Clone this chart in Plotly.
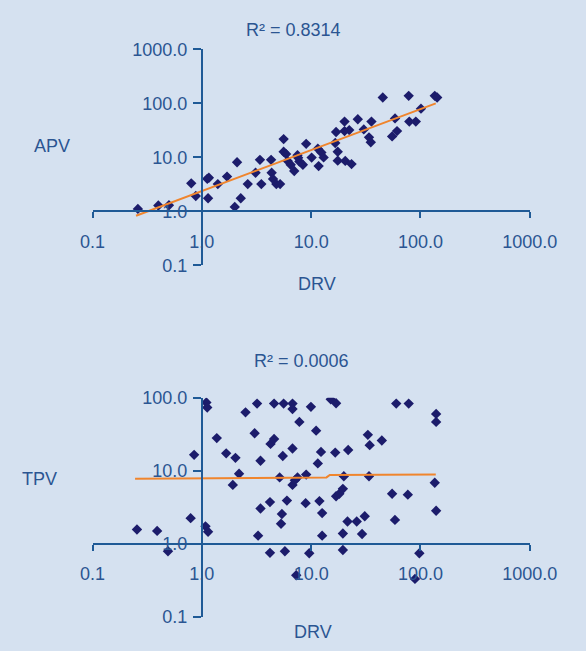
import plotly.graph_objects as go
import math

# ---------------- data ----------------
apv_drv = [0.26, 0.40, 0.50, 0.80, 0.88, 1.12, 1.16, 1.14, 1.40, 1.70, 2.10, 2.00, 2.27, 2.63,
           3.1, 3.4, 3.5, 4.3, 4.35, 4.48, 4.8, 5.2, 5.6, 5.6, 5.9, 6.1, 6.5, 7.0, 7.5, 7.8,
           7.6, 8.4, 9.0, 10.1, 11.5, 11.7, 12.4, 13.0, 16.9, 16.6, 17.5, 17.5, 20.2, 20.2,
           22.3, 20.5, 23.4, 26.7, 30.3, 33.8, 35.1, 35.6, 45.2, 55, 61, 58.5, 78, 79, 90.6,
           101, 135, 142]
apv_val = [1.11, 1.28, 1.30, 3.3, 1.93, 4.0, 4.2, 1.75, 3.2, 4.4, 8.1, 1.21, 1.75, 3.2,
           5.2, 9.0, 3.2, 9.0, 5.2, 3.97, 3.2, 3.2, 21.8, 12.7, 11.5, 8.6, 7.3, 5.6, 11.0, 8.4,
           9.8, 7.3, 17.8, 9.9, 14.5, 6.9, 12.3, 10.0, 29.5, 18.5, 12.7, 8.7, 46, 30.7,
           32, 8.6, 7.5, 51, 33, 23.5, 19.1, 46, 129, 24.5, 30.7, 52.8, 138, 46, 46,
           80, 138, 129]

tpv_drv = [0.255, 0.39, 0.49, 0.79, 0.85, 1.10, 1.12, 1.08, 1.14, 1.37, 1.67, 2.03, 1.92, 2.19,
           2.51, 3.2, 3.04, 3.44, 3.44, 3.27, 4.2, 4.2, 4.25, 4.58, 4.58, 5.6, 5.15, 5.5, 5.4,
           5.3, 6.0, 5.75, 6.75, 6.75, 6.75, 6.75, 7.1, 7.5, 7.8, 7.3, 8.9, 9.0, 9.6, 9.95,
           11.1, 11.5, 11.9, 12.3, 12.6, 12.6, 15.1, 16.9, 16.6, 16.9, 18.1, 19.5, 19.9, 19.5,
           19.5, 21.8, 21.5, 26.1, 29.2, 30.9, 33, 34.3, 33.8, 44.3, 55, 58.4, 60, 78, 76.6,
           97.6, 89, 139, 139, 135, 139]
tpv_val = [1.57, 1.50, 0.79, 2.24, 16.5, 85.9, 73.6, 1.73, 1.46, 28, 17.3, 15.0, 6.4, 9.1,
           63, 83, 32.6, 13.7, 3.04, 1.29, 3.72, 0.75, 23.3, 27.2, 83, 83, 8.1, 15.9, 2.55,
           1.88, 3.9, 0.79, 83, 70, 20.2, 6.4, 7.4, 8.1, 46.6, 0.37, 3.6, 8.85, 0.74, 75,
           35.4, 12.6, 3.84, 18.1, 2.63, 1.29, 95, 84, 17.7, 4.47, 4.85, 5.65, 8.4, 1.38,
           0.82, 19.2, 2.02, 2.02, 1.36, 2.38, 31, 22.4, 8.4, 26, 4.85, 2.12, 83, 83, 4.7,
           0.74, 0.33, 60, 46.6, 6.86, 2.83]

# trend lines as drawn in the picture
apv_trend_x = [0.25, 138]
apv_trend_y = [0.83, 100]
tpv_trend_x = [0.245, 13.8, 14.8, 138]
tpv_trend_y = [7.75, 8.1, 8.75, 8.85]

x_ticks = [0.1, 1, 10, 100, 1000]
x_labels = ["0.1", "1.0", "10.0", "100.0", "1000.0"]
y1_ticks = [0.1, 1, 10, 100, 1000]
y1_labels = ["0.1", "1.0", "10.0", "100.0", "1000.0"]
y2_ticks = [0.1, 1, 10, 100]
y2_labels = ["0.1", "1.0", "10.0", "100.0"]

titles = ["R² = 0.8314", "R² = 0.0006"]
y_names = ["APV", "TPV"]
x_name = "DRV"

# ---------------- styling ----------------
W, H = 586, 651
BG = "#d5e1f0"
AX = "#1f5a96"
TXT = "#2b5592"
MK = "#1c1c6b"
OR = "#f0852d"
FONT = "Liberation Sans, Arial, sans-serif"
FS = 18

def px_to_fx(p):
    return p / W

def py_to_fy(p):
    return 1 - p / H

xdom = [px_to_fx(85.5), px_to_fx(555.7)]
y1dom = [py_to_fy(263.4), py_to_fy(40.7)]
y2dom = [py_to_fy(626), py_to_fy(400)]
xr = [-1, 3]
y1r = [-1, 3]
y2r = [-1, 2]

def frac(v, r):
    return (math.log10(v) - r[0]) / (r[1] - r[0])

ypos_x = xdom[0] + frac(1, xr) * (xdom[1] - xdom[0])
x1pos = y1dom[0] + frac(1, y1r) * (y1dom[1] - y1dom[0])
x2pos = y2dom[0] + frac(1, y2r) * (y2dom[1] - y2dom[0])

fig = go.Figure()
marker = dict(symbol="diamond", size=8, color=MK, line=dict(width=0))
fig.add_trace(go.Scatter(x=apv_drv, y=apv_val, mode="markers", marker=marker,
                         xaxis="x", yaxis="y", showlegend=False, hoverinfo="skip"))
fig.add_trace(go.Scatter(x=apv_trend_x, y=apv_trend_y, mode="lines",
                         line=dict(color=OR, width=2), xaxis="x", yaxis="y",
                         showlegend=False, hoverinfo="skip"))
fig.add_trace(go.Scatter(x=tpv_drv, y=tpv_val, mode="markers", marker=marker,
                         xaxis="x2", yaxis="y2", showlegend=False, hoverinfo="skip"))
fig.add_trace(go.Scatter(x=tpv_trend_x, y=tpv_trend_y, mode="lines",
                         line=dict(color=OR, width=2), xaxis="x2", yaxis="y2",
                         showlegend=False, hoverinfo="skip"))

tickfont = dict(family=FONT, size=FS, color=TXT)

def xax(pos):
    return dict(type="log", range=xr, domain=xdom, anchor="free", position=pos,
                tickvals=x_ticks, ticktext=x_labels, ticks="outside", ticklen=6,
                tickwidth=2, tickcolor=AX, showline=True, linecolor=AX, linewidth=2,
                showgrid=False, zeroline=False, tickfont=tickfont,
                ticklabelstandoff=8, fixedrange=True)

def yax(dom, r, tv, tt):
    return dict(type="log", range=r, domain=dom, anchor="free", position=ypos_x,
                tickvals=tv, ticktext=tt, ticks="outside", ticklen=8, tickwidth=2,
                tickcolor=AX, showline=True, linecolor=AX, linewidth=2,
                showgrid=False, zeroline=False, tickfont=tickfont,
                ticklabelstandoff=2, fixedrange=True)

annots = []
def ann(text, x, y):
    annots.append(dict(text=text, x=px_to_fx(x), y=py_to_fy(y), xref="paper", yref="paper",
                       showarrow=False, xanchor="center", yanchor="middle",
                       font=dict(family=FONT, size=FS, color=TXT)))

ann(titles[0], 302, 20.5)
ann(y_names[0], 42, 140)
ann(x_name, 327, 283)
ann(titles[1], 310, 362.5)
ann(y_names[1], 28, 484)
ann(x_name, 323, 641.5)

fig.update_layout(
    width=W, height=H, margin=dict(l=0, r=0, t=0, b=0),
    paper_bgcolor=BG, plot_bgcolor=BG,
    xaxis=xax(x1pos), yaxis=yax(y1dom, y1r, y1_ticks, y1_labels),
    xaxis2=xax(x2pos), yaxis2=yax(y2dom, y2r, y2_ticks, y2_labels),
    annotations=annots, showlegend=False,
)

fig.write_html("out.html")
